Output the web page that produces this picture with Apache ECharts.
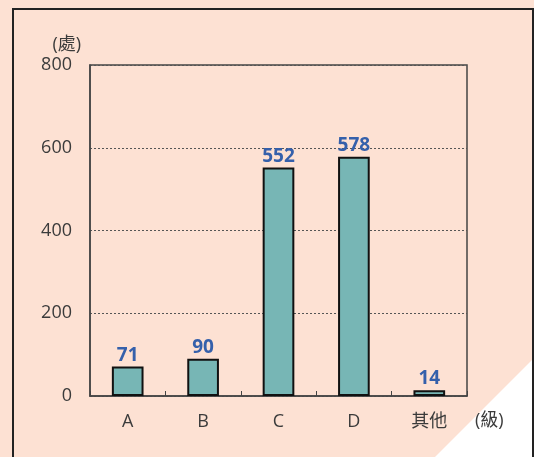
<!DOCTYPE html>
<html>
<head>
<meta charset="utf-8">
<script src="https://cdn.jsdelivr.net/npm/echarts@6/dist/echarts.min.js"></script>
<style>
  html, body { margin: 0; padding: 0; background: #fde1d3; }
  #chart { width: 534px; height: 457px; }
</style>
</head>
<body>
<div id="chart"></div>
<script>
// Categories and counts per grade
const categories = ['A', 'B', 'C', 'D', '其他'];
const counts = [71, 90, 552, 578, 14];
const yTicks = [0, 200, 400, 600, 800];

const FONT = "'Open Sans', 'Noto Sans CJK TC', sans-serif";
const chart = echarts.init(document.getElementById('chart'), null, { renderer: 'canvas' });

chart.setOption({
  backgroundColor: '#fde1d3',
  animation: false,
  graphic: [
    {
      type: 'polygon',
      z: -10,
      shape: { points: [[534, 358], [534, 457], [435, 457]] },
      style: { fill: '#ffffff' },
      silent: true
    },
    {
      type: 'polyline',
      z: 100,
      shape: { points: [[13, 457], [13, 9], [533, 9], [533, 457]] },
      style: { stroke: '#222222', lineWidth: 2, fill: null },
      silent: true
    }
  ],
  grid: {
    left: 90, right: 67, top: 65, bottom: 61,
    show: true,
    borderColor: '#444444',
    borderWidth: 1.5,
    backgroundColor: 'transparent'
  },
  xAxis: {
    type: 'category',
    data: categories,
    name: '(級)',
    nameLocation: 'end',
    nameGap: 8,
    nameTextStyle: {
      fontFamily: FONT, fontSize: 18, color: '#3b3b3b',
      align: 'left', verticalAlign: 'top', padding: [16, 0, 0, 0]
    },
    axisLine: { show: true, lineStyle: { color: '#444444', width: 1.5 } },
    axisTick: { show: true, inside: true, length: 5, lineStyle: { color: '#444444', width: 1 } },
    axisLabel: { fontFamily: FONT, fontSize: 18, color: '#3b3b3b', margin: 17 }
  },
  yAxis: {
    type: 'value',
    min: 0, max: 800, interval: 200,
    name: '(處)',
    nameLocation: 'end',
    nameGap: 11,
    nameTextStyle: {
      fontFamily: FONT, fontSize: 18, color: '#3b3b3b',
      align: 'right', verticalAlign: 'bottom', padding: [0, 9, 0, 0]
    },
    axisLine: { show: true, lineStyle: { color: '#444444', width: 1.5 } },
    axisTick: { show: false },
    axisLabel: {
      fontFamily: FONT, fontSize: 18, color: '#3b3b3b', margin: 18,
      formatter: v => (yTicks.includes(v) ? String(v) : '')
    },
    splitLine: { show: true, lineStyle: { color: '#555555', type: [2, 2], width: 1 } }
  },
  series: [{
    type: 'bar',
    data: counts,
    barWidth: '42%',
    itemStyle: { color: '#77b6b5', borderColor: '#111111', borderWidth: 2 },
    label: {
      show: true, position: 'top', distance: 2,
      fontFamily: FONT, fontSize: 19, fontWeight: 'bold', color: '#3560ab'
    }
  }]
});
</script>
</body>
</html>
